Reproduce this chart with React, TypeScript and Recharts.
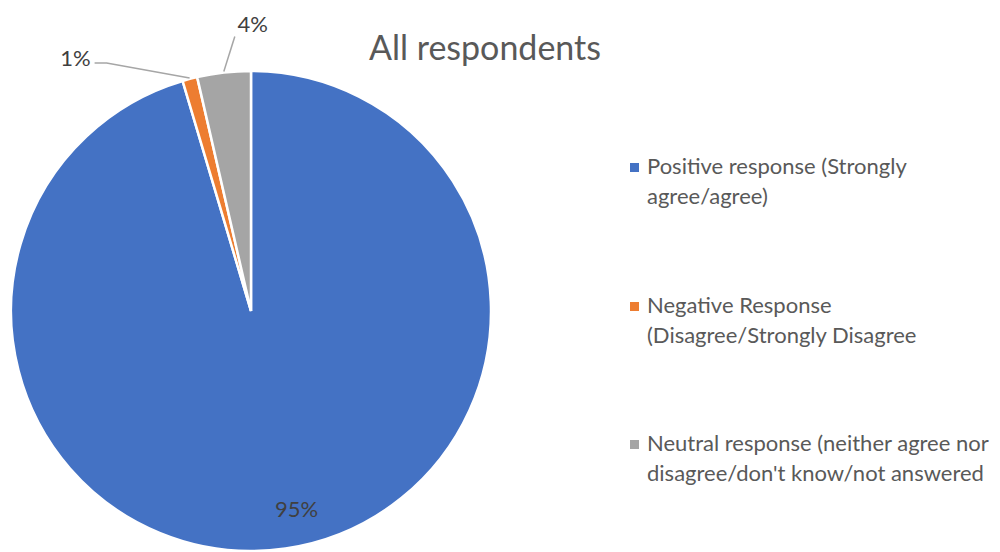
import React from 'react';
import { PieChart, Pie, Cell, Legend } from 'recharts';

const categories = [
  'Positive response (Strongly agree/agree)',
  'Negative Response (Disagree/Strongly Disagree',
  "Neutral response (neither agree nor disagree/don't know/not answered",
];
const values = [95.4, 1.0, 3.6];
const labels = ['95%', '1%', '4%'];
const colors = ['#4472C4', '#ED7D31', '#A5A5A5'];
const title = 'All respondents';

const data = categories.map((name, i) => ({ name, value: values[i], label: labels[i], color: colors[i] }));

const FONT = 'Lato, "Liberation Sans", sans-serif';
const RAD = Math.PI / 180;

const renderLabel = (props: any) => {
  const { cx, cy, midAngle, outerRadius, index } = props;
  const cos = Math.cos(-midAngle * RAD);
  const sin = Math.sin(-midAngle * RAD);
  const text = labels[index];
  if (index === 0) {
    const r = outerRadius * 0.83;
    const x = cx + r * cos + 17;
    const y = cy + r * sin;
    return (
      <text x={x} y={y} textAnchor="middle" dominantBaseline="central" fill="#404040" fontSize={22} fontFamily={FONT}>
        {text}
      </text>
    );
  }
  const sx = cx + (outerRadius + 1) * cos;
  const sy = cy + (outerRadius + 1) * sin;
  if (index === 1) {
    const ex = sx - 83;
    const ey = sy - 15;
    const fx = ex - 12;
    return (
      <g>
        <polyline points={`${sx},${sy} ${ex},${ey} ${fx},${ey}`} fill="none" stroke="#A6A6A6" strokeWidth={1.5} />
        <text x={fx - 4} y={ey - 5} textAnchor="end" dominantBaseline="central" fill="#404040" fontSize={22} fontFamily={FONT}>
          {text}
        </text>
      </g>
    );
  }
  const ex = sx + 11;
  const ey = sy - 35;
  return (
    <g>
      <polyline points={`${sx},${sy} ${ex},${ey}`} fill="none" stroke="#A6A6A6" strokeWidth={1.5} />
      <text x={ex + 18} y={ey - 13} textAnchor="middle" dominantBaseline="central" fill="#404040" fontSize={22} fontFamily={FONT}>
        {text}
      </text>
    </g>
  );
};

const renderLegend = () => (
  <div style={{ fontFamily: FONT, color: '#595959', fontSize: 22 }}>
    {data.map((d, i) => (
      <div key={i} style={{ display: 'flex', alignItems: 'flex-start', height: 138.5 }}>
        <div style={{ width: 9, height: 9, background: d.color, marginTop: 12, marginRight: 8, flexShrink: 0 }} />
        <div style={{ lineHeight: '30px', width: 352 }}>{d.name}</div>
      </div>
    ))}
  </div>
);

export default function App() {
  return (
    <div style={{ position: 'absolute', left: 0, top: 0, width: 1000, height: 552, background: '#fff' }}>
      <div
        style={{
          position: 'absolute',
          left: 285,
          width: 400,
          top: 27,
          textAlign: 'center',
          fontFamily: FONT,
          fontSize: 34,
          color: '#595959',
          lineHeight: '40px',
        }}
      >
        {title}
      </div>
      <PieChart width={1000} height={552} margin={{ top: 0, right: 0, bottom: 0, left: 0 }}>
        <Pie
          data={data}
          dataKey="value"
          nameKey="name"
          cx={251}
          cy={311}
          outerRadius={240}
          startAngle={90}
          endAngle={-270}
          stroke="#FFFFFF"
          strokeWidth={2.5}
          label={renderLabel}
          labelLine={false}
          isAnimationActive={false}
        >
          {data.map((d, i) => (
            <Cell key={i} fill={d.color} />
          ))}
        </Pie>
        <Legend
          layout="vertical"
          align="right"
          verticalAlign="top"
          content={renderLegend}
          wrapperStyle={{ position: 'absolute', left: 630, top: 151, width: 370 }}
        />
      </PieChart>
    </div>
  );
}
